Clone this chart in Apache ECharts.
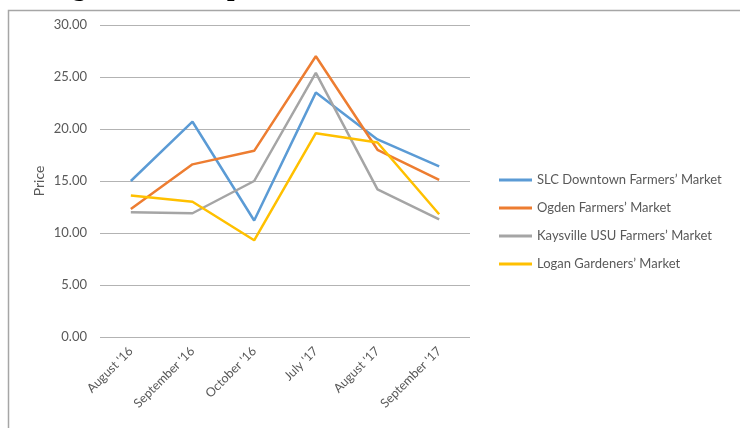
<!DOCTYPE html>
<html>
<head>
<meta charset="utf-8">
<script src="https://cdn.jsdelivr.net/npm/echarts@6/dist/echarts.min.js"></script>
<style>
  html, body { margin: 0; padding: 0; background: #fff; }
  #main { width: 740px; height: 428px; }
</style>
</head>
<body>
<div id="main"></div>
<script>
  // months shown on the x axis
  var months = ["August '16", "September '16", "October '16", "July '17", "August '17", "September '17"];
  // price per market
  var slcDowntown = [15.0, 20.7, 11.2, 23.5, 19.0, 16.4];
  var ogden = [12.3, 16.6, 17.9, 27.0, 18.0, 15.1];
  var kaysville = [12.0, 11.9, 15.0, 25.4, 14.2, 11.3];
  var logan = [13.6, 13.0, 9.3, 19.6, 18.7, 11.8];

  var labelColor = '#595959';
  var font = 'Lato';

  function makeSeries(name, data, color) {
    return {
      name: name,
      type: 'line',
      data: data,
      symbol: 'none',
      smooth: false,
      lineStyle: { color: color, width: 2.5 },
      itemStyle: { color: color }
    };
  }

  var myChart = echarts.init(document.getElementById('main'), null, { renderer: 'canvas' });
  var option = {
    animation: false,
    backgroundColor: '#fff',
    graphic: [
      {
        type: 'rect',
        shape: { x: 8.5, y: 10.5, width: 900, height: 600 },
        style: { fill: 'none', stroke: '#a6a6a6', lineWidth: 1.5 },
        silent: true
      },
      {
        // heading of the page, cut off at the top edge
        type: 'text',
        x: 4,
        y: 2,
        style: {
          text: 'Average Price Comparison',
          font: 'bold 27px "Liberation Serif"',
          fill: '#000',
          verticalAlign: 'bottom'
        },
        silent: true
      }
    ],
    grid: { left: 100, right: 270, top: 25, bottom: 91, containLabel: false },
    legend: {
      orient: 'vertical',
      left: 494,
      top: 167,
      icon: 'rect',
      itemWidth: 33,
      itemHeight: 3,
      itemGap: 12,
      itemTextGap: 6,
      textStyle: { color: labelColor, fontSize: 13, fontFamily: font, lineHeight: 16 },
      data: ["SLC Downtown Farmers\u2019 Market", "Ogden Farmers\u2019 Market", "Kaysville USU Farmers\u2019 Market", "Logan Gardeners\u2019 Market"]
    },
    xAxis: {
      type: 'category',
      data: months,
      boundaryGap: true,
      axisLine: { show: false },
      axisTick: { show: false },
      axisLabel: { color: labelColor, fontSize: 12.5, fontFamily: font, rotate: 45, margin: 12, interval: 0 }
    },
    yAxis: {
      type: 'value',
      min: 0,
      max: 30,
      interval: 5,
      name: 'Price',
      nameLocation: 'middle',
      nameGap: 54,
      nameTextStyle: { color: labelColor, fontSize: 14, fontFamily: font },
      axisLine: { show: false },
      axisTick: { show: false },
      axisLabel: {
        color: labelColor, fontSize: 13, fontFamily: font, margin: 13,
        formatter: function (v) { return v.toFixed(2); }
      },
      splitLine: { lineStyle: { color: '#b3b3b3', width: 1 } }
    },
    series: [
      makeSeries("SLC Downtown Farmers\u2019 Market", slcDowntown, '#5B9BD5'),
      makeSeries("Ogden Farmers\u2019 Market", ogden, '#ED7D31'),
      makeSeries("Kaysville USU Farmers\u2019 Market", kaysville, '#A5A5A5'),
      makeSeries("Logan Gardeners\u2019 Market", logan, '#FFC000')
    ]
  };
  myChart.setOption(option);
</script>
</body>
</html>
